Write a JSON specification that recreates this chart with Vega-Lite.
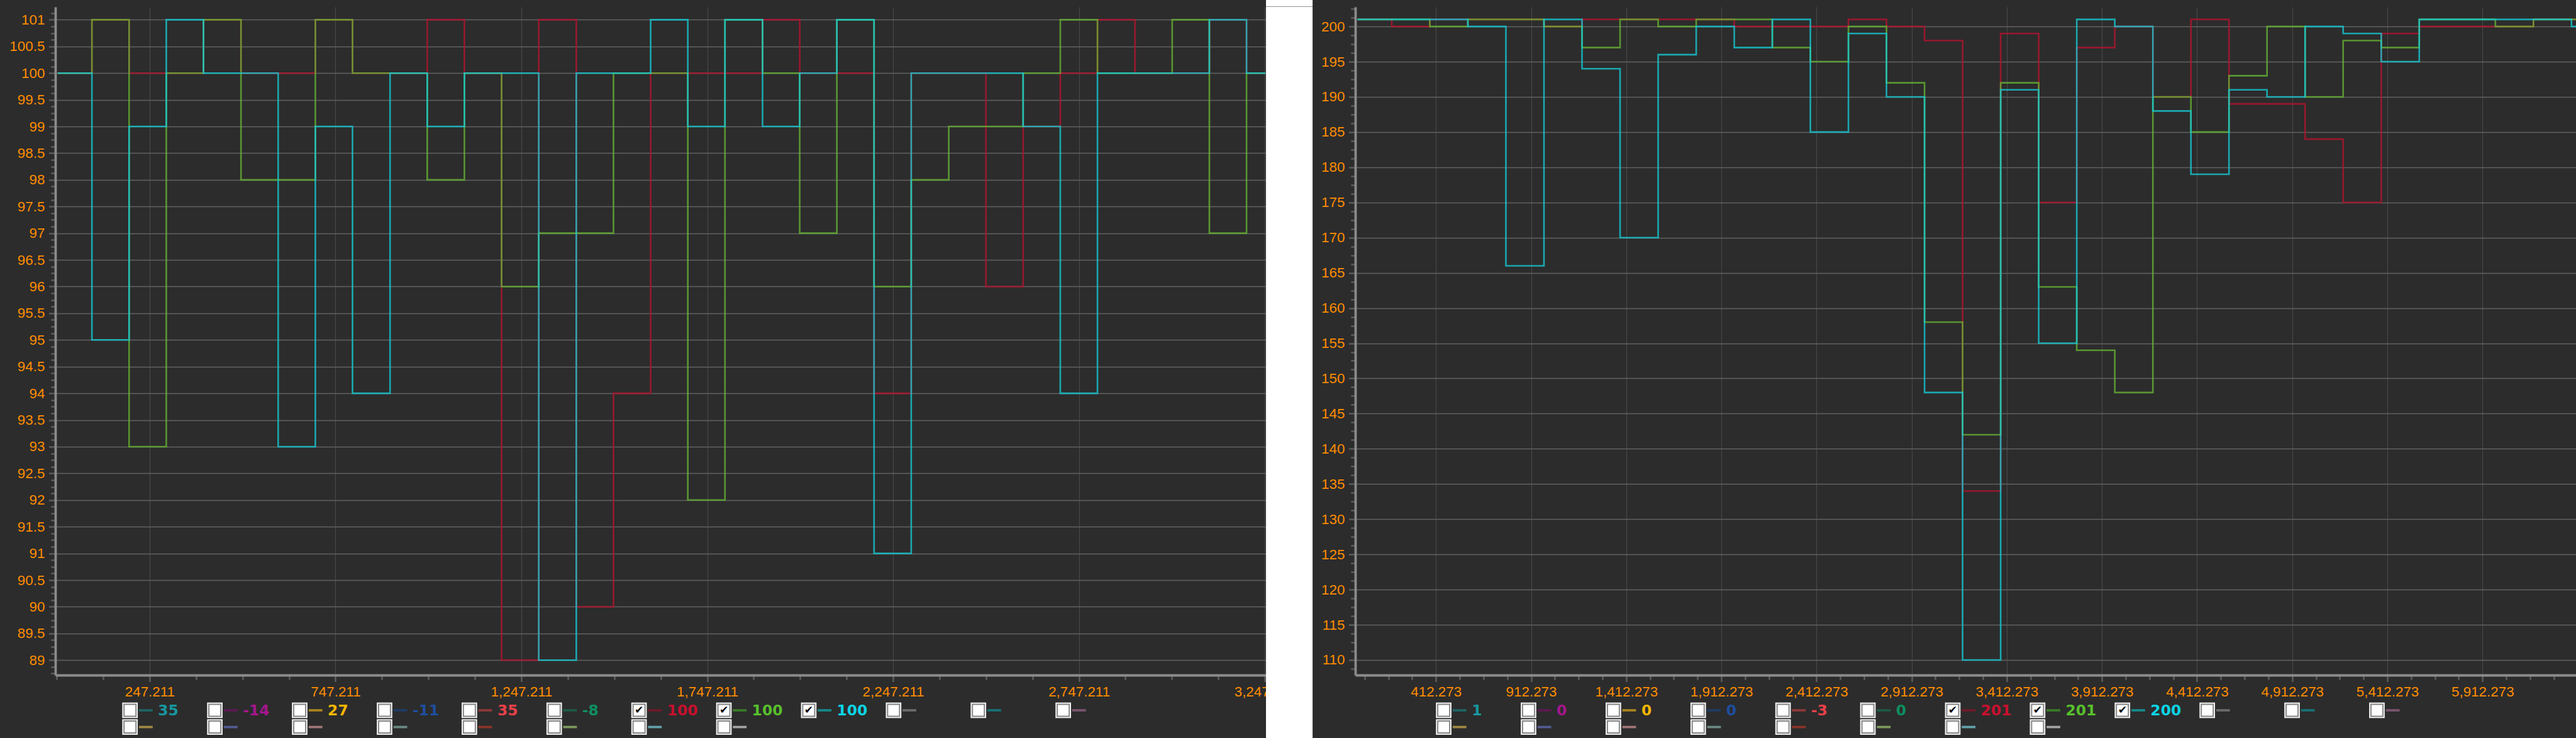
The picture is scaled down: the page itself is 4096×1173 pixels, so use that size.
{
"$schema":"https://vega.github.io/schema/vega-lite/v6.json",
"background":"#2c2c2c",
"padding":0,
"datasets":{
"left":[
{"s":"R","x":0,"y":100},{"s":"R","x":92,"y":101},{"s":"R","x":192,"y":100},{"s":"R","x":292,"y":100},{"s":"R","x":392,"y":101},{"s":"R","x":493,"y":100},{"s":"R","x":593,"y":100},{"s":"R","x":693,"y":101},{"s":"R","x":793,"y":100},{"s":"R","x":894,"y":100},{"s":"R","x":994,"y":101},{"s":"R","x":1094,"y":100},{"s":"R","x":1194,"y":89},{"s":"R","x":1294,"y":101},{"s":"R","x":1395,"y":90},{"s":"R","x":1495,"y":94},{"s":"R","x":1595,"y":100},{"s":"R","x":1695,"y":100},{"s":"R","x":1795,"y":100},{"s":"R","x":1896,"y":101},{"s":"R","x":1996,"y":100},{"s":"R","x":2096,"y":100},{"s":"R","x":2196,"y":94},{"s":"R","x":2296,"y":100},{"s":"R","x":2397,"y":100},{"s":"R","x":2497,"y":96},{"s":"R","x":2597,"y":99},{"s":"R","x":2697,"y":100},{"s":"R","x":2797,"y":101},{"s":"R","x":2898,"y":100},{"s":"R","x":2998,"y":100},{"s":"R","x":3098,"y":101},{"s":"R","x":3198,"y":100},{"s":"R","x":3249,"y":100},
{"s":"G","x":0,"y":100},{"s":"G","x":92,"y":101},{"s":"G","x":192,"y":93},{"s":"G","x":292,"y":100},{"s":"G","x":392,"y":101},{"s":"G","x":493,"y":98},{"s":"G","x":593,"y":98},{"s":"G","x":693,"y":101},{"s":"G","x":793,"y":100},{"s":"G","x":894,"y":100},{"s":"G","x":994,"y":98},{"s":"G","x":1094,"y":100},{"s":"G","x":1194,"y":96},{"s":"G","x":1294,"y":97},{"s":"G","x":1395,"y":97},{"s":"G","x":1495,"y":100},{"s":"G","x":1595,"y":100},{"s":"G","x":1695,"y":92},{"s":"G","x":1795,"y":101},{"s":"G","x":1896,"y":100},{"s":"G","x":1996,"y":97},{"s":"G","x":2096,"y":101},{"s":"G","x":2196,"y":96},{"s":"G","x":2296,"y":98},{"s":"G","x":2397,"y":99},{"s":"G","x":2497,"y":99},{"s":"G","x":2597,"y":100},{"s":"G","x":2697,"y":101},{"s":"G","x":2797,"y":100},{"s":"G","x":2898,"y":100},{"s":"G","x":2998,"y":101},{"s":"G","x":3098,"y":97},{"s":"G","x":3198,"y":100},{"s":"G","x":3249,"y":100},
{"s":"T","x":0,"y":100},{"s":"T","x":92,"y":95},{"s":"T","x":192,"y":99},{"s":"T","x":292,"y":101},{"s":"T","x":392,"y":100},{"s":"T","x":493,"y":100},{"s":"T","x":593,"y":93},{"s":"T","x":693,"y":99},{"s":"T","x":793,"y":94},{"s":"T","x":894,"y":100},{"s":"T","x":994,"y":99},{"s":"T","x":1094,"y":100},{"s":"T","x":1194,"y":100},{"s":"T","x":1294,"y":89},{"s":"T","x":1395,"y":100},{"s":"T","x":1495,"y":100},{"s":"T","x":1595,"y":101},{"s":"T","x":1695,"y":99},{"s":"T","x":1795,"y":101},{"s":"T","x":1896,"y":99},{"s":"T","x":1996,"y":100},{"s":"T","x":2096,"y":101},{"s":"T","x":2196,"y":91},{"s":"T","x":2296,"y":100},{"s":"T","x":2397,"y":100},{"s":"T","x":2497,"y":100},{"s":"T","x":2597,"y":99},{"s":"T","x":2697,"y":94},{"s":"T","x":2797,"y":100},{"s":"T","x":2898,"y":100},{"s":"T","x":2998,"y":100},{"s":"T","x":3098,"y":101},{"s":"T","x":3198,"y":100},{"s":"T","x":3249,"y":100}
],
"right":[
{"s":"R","x":0,"y":201},{"s":"R","x":180,"y":200},{"s":"R","x":380,"y":201},{"s":"R","x":580,"y":201},{"s":"R","x":780,"y":201},{"s":"R","x":980,"y":200},{"s":"R","x":1180,"y":201},{"s":"R","x":1380,"y":201},{"s":"R","x":1580,"y":201},{"s":"R","x":1780,"y":201},{"s":"R","x":1980,"y":200},{"s":"R","x":2180,"y":200},{"s":"R","x":2380,"y":200},{"s":"R","x":2580,"y":201},{"s":"R","x":2780,"y":200},{"s":"R","x":2980,"y":198},{"s":"R","x":3180,"y":134},{"s":"R","x":3380,"y":199},{"s":"R","x":3580,"y":175},{"s":"R","x":3780,"y":197},{"s":"R","x":3980,"y":200},{"s":"R","x":4180,"y":190},{"s":"R","x":4380,"y":201},{"s":"R","x":4580,"y":189},{"s":"R","x":4780,"y":189},{"s":"R","x":4980,"y":184},{"s":"R","x":5180,"y":175},{"s":"R","x":5380,"y":199},{"s":"R","x":5580,"y":200},{"s":"R","x":5780,"y":200},{"s":"R","x":5980,"y":200},{"s":"R","x":6180,"y":201},{"s":"R","x":6380,"y":201},{"s":"R","x":6412,"y":201},
{"s":"G","x":0,"y":201},{"s":"G","x":180,"y":201},{"s":"G","x":380,"y":200},{"s":"G","x":580,"y":201},{"s":"G","x":780,"y":201},{"s":"G","x":980,"y":200},{"s":"G","x":1180,"y":197},{"s":"G","x":1380,"y":201},{"s":"G","x":1580,"y":200},{"s":"G","x":1780,"y":201},{"s":"G","x":1980,"y":201},{"s":"G","x":2180,"y":197},{"s":"G","x":2380,"y":195},{"s":"G","x":2580,"y":200},{"s":"G","x":2780,"y":192},{"s":"G","x":2980,"y":158},{"s":"G","x":3180,"y":142},{"s":"G","x":3380,"y":192},{"s":"G","x":3580,"y":163},{"s":"G","x":3780,"y":154},{"s":"G","x":3980,"y":148},{"s":"G","x":4180,"y":190},{"s":"G","x":4380,"y":185},{"s":"G","x":4580,"y":193},{"s":"G","x":4780,"y":200},{"s":"G","x":4980,"y":190},{"s":"G","x":5180,"y":198},{"s":"G","x":5380,"y":197},{"s":"G","x":5580,"y":201},{"s":"G","x":5780,"y":201},{"s":"G","x":5980,"y":200},{"s":"G","x":6180,"y":201},{"s":"G","x":6380,"y":201},{"s":"G","x":6412,"y":201},
{"s":"T","x":0,"y":201},{"s":"T","x":180,"y":201},{"s":"T","x":380,"y":201},{"s":"T","x":580,"y":200},{"s":"T","x":780,"y":166},{"s":"T","x":980,"y":201},{"s":"T","x":1180,"y":194},{"s":"T","x":1380,"y":170},{"s":"T","x":1580,"y":196},{"s":"T","x":1780,"y":200},{"s":"T","x":1980,"y":197},{"s":"T","x":2180,"y":201},{"s":"T","x":2380,"y":185},{"s":"T","x":2580,"y":199},{"s":"T","x":2780,"y":190},{"s":"T","x":2980,"y":148},{"s":"T","x":3180,"y":110},{"s":"T","x":3380,"y":191},{"s":"T","x":3580,"y":155},{"s":"T","x":3780,"y":201},{"s":"T","x":3980,"y":200},{"s":"T","x":4180,"y":188},{"s":"T","x":4380,"y":179},{"s":"T","x":4580,"y":191},{"s":"T","x":4780,"y":190},{"s":"T","x":4980,"y":200},{"s":"T","x":5180,"y":199},{"s":"T","x":5380,"y":195},{"s":"T","x":5580,"y":201},{"s":"T","x":5780,"y":201},{"s":"T","x":5980,"y":201},{"s":"T","x":6180,"y":201},{"s":"T","x":6380,"y":200},{"s":"T","x":6412,"y":200}
],
"legend":[
{"panel":"L","row":1,"col":0,"slot":"a0","label":"35","checked":false},
{"panel":"L","row":1,"col":1,"slot":"a1","label":"-14","checked":false},
{"panel":"L","row":1,"col":2,"slot":"a2","label":"27","checked":false},
{"panel":"L","row":1,"col":3,"slot":"a3","label":"-11","checked":false},
{"panel":"L","row":1,"col":4,"slot":"a4","label":"35","checked":false},
{"panel":"L","row":1,"col":5,"slot":"a5","label":"-8","checked":false},
{"panel":"L","row":1,"col":6,"slot":"a6","label":"100","checked":true},
{"panel":"L","row":1,"col":7,"slot":"a7","label":"100","checked":true},
{"panel":"L","row":1,"col":8,"slot":"a8","label":"100","checked":true},
{"panel":"L","row":1,"col":9,"slot":"a9","label":"","checked":false},
{"panel":"L","row":1,"col":10,"slot":"a10","label":"","checked":false},
{"panel":"L","row":1,"col":11,"slot":"a11","label":"","checked":false},
{"panel":"L","row":2,"col":0,"slot":"b0","label":"","checked":false},
{"panel":"L","row":2,"col":1,"slot":"b1","label":"","checked":false},
{"panel":"L","row":2,"col":2,"slot":"b2","label":"","checked":false},
{"panel":"L","row":2,"col":3,"slot":"b3","label":"","checked":false},
{"panel":"L","row":2,"col":4,"slot":"b4","label":"","checked":false},
{"panel":"L","row":2,"col":5,"slot":"b5","label":"","checked":false},
{"panel":"L","row":2,"col":6,"slot":"b6","label":"","checked":false},
{"panel":"L","row":2,"col":7,"slot":"b7","label":"","checked":false},
{"panel":"R","row":1,"col":0,"slot":"a0","label":"1","checked":false},
{"panel":"R","row":1,"col":1,"slot":"a1","label":"0","checked":false},
{"panel":"R","row":1,"col":2,"slot":"a2","label":"0","checked":false},
{"panel":"R","row":1,"col":3,"slot":"a3","label":"0","checked":false},
{"panel":"R","row":1,"col":4,"slot":"a4","label":"-3","checked":false},
{"panel":"R","row":1,"col":5,"slot":"a5","label":"0","checked":false},
{"panel":"R","row":1,"col":6,"slot":"a6","label":"201","checked":true},
{"panel":"R","row":1,"col":7,"slot":"a7","label":"201","checked":true},
{"panel":"R","row":1,"col":8,"slot":"a8","label":"200","checked":true},
{"panel":"R","row":1,"col":9,"slot":"a9","label":"","checked":false},
{"panel":"R","row":1,"col":10,"slot":"a10","label":"","checked":false},
{"panel":"R","row":1,"col":11,"slot":"a11","label":"","checked":false},
{"panel":"R","row":2,"col":0,"slot":"b0","label":"","checked":false},
{"panel":"R","row":2,"col":1,"slot":"b1","label":"","checked":false},
{"panel":"R","row":2,"col":2,"slot":"b2","label":"","checked":false},
{"panel":"R","row":2,"col":3,"slot":"b3","label":"","checked":false},
{"panel":"R","row":2,"col":4,"slot":"b4","label":"","checked":false},
{"panel":"R","row":2,"col":5,"slot":"b5","label":"","checked":false},
{"panel":"R","row":2,"col":6,"slot":"b6","label":"","checked":false},
{"panel":"R","row":2,"col":7,"slot":"b7","label":"","checked":false}
]
},
"columns":5,
"spacing":0,
"bounds":"flush",
"concat":[
{"width":87.4,"height":10.45,"data":{"values":[]},"mark":"point"},
{"width":1924.5,"height":10.45,"data":{"values":[]},"mark":"point"},
{"width":74.1,"height":10.45,"view":{"fill":"#ffffff"},"data":{"values":[]},"mark":"point"},
{"width":66.5,"height":10.45,"data":{"values":[]},"mark":"point"},
{"width":1943.5,"height":10.45,"data":{"values":[]},"mark":"point"},

{"width":87.4,"height":1062,"data":{"values":[]},"mark":"point"},
{"width":1924.5,"height":1062,
 "data":{"name":"left"},
 "encoding":{
  "x":{"field":"x","type":"quantitative","scale":{"domain":[-6.4,3249.5],"nice":false,"zero":false},
   "axis":{"title":null,"grid":true,
    "values":[-2.789,122.211,247.211,372.211,497.211,622.211,747.211,872.211,997.211,1122.211,1247.211,1372.211,1497.211,1622.211,1747.211,1872.211,1997.211,2122.211,2247.211,2372.211,2497.211,2622.211,2747.211,2872.211,2997.211,3122.211,3247.211],
    "labelExpr":"abs((datum.value-247.211)/500-round((datum.value-247.211)/500))<0.001 ? format(datum.value, ',.3f') : ''",
    "tickSize":{"condition":{"test":"abs((datum.value-247.211)/500-round((datum.value-247.211)/500))<0.001","value":10.5},"value":7.3},
    "gridOpacity":{"condition":{"test":"abs((datum.value-247.211)/500-round((datum.value-247.211)/500))<0.001","value":1},"value":0}}},
  "y":{"field":"y","type":"quantitative","scale":{"domain":[88.72,101.24],"nice":false,"zero":false},
   "axis":{"title":null,"grid":true,
    "values":[88.75,88.875,89,89.125,89.25,89.375,89.5,89.625,89.75,89.875,90,90.125,90.25,90.375,90.5,90.625,90.75,90.875,91,91.125,91.25,91.375,91.5,91.625,91.75,91.875,92,92.125,92.25,92.375,92.5,92.625,92.75,92.875,93,93.125,93.25,93.375,93.5,93.625,93.75,93.875,94,94.125,94.25,94.375,94.5,94.625,94.75,94.875,95,95.125,95.25,95.375,95.5,95.625,95.75,95.875,96,96.125,96.25,96.375,96.5,96.625,96.75,96.875,97,97.125,97.25,97.375,97.5,97.625,97.75,97.875,98,98.125,98.25,98.375,98.5,98.625,98.75,98.875,99,99.125,99.25,99.375,99.5,99.625,99.75,99.875,100,100.125,100.25,100.375,100.5,100.625,100.75,100.875,101,101.125],
    "labelExpr":"abs(datum.value*2-round(datum.value*2))<0.001 ? format(datum.value, '.1~f') : ''",
    "tickSize":{"condition":{"test":"abs(datum.value*2-round(datum.value*2))<0.001","value":10.5},"value":7.3},
    "gridOpacity":{"condition":{"test":"abs(datum.value*2-round(datum.value*2))<0.001","value":1},"value":0}}}
 },
 "layer":[
  {"transform":[{"filter":"datum.s==='R'"}],"mark":{"type":"line","interpolate":"step-after","color":"#b3142f","strokeWidth":2.6,"strokeOpacity":0.8,"clip":true}},
  {"transform":[{"filter":"datum.s==='G'"}],"mark":{"type":"line","interpolate":"step-after","color":"#66b534","strokeWidth":2.6,"strokeOpacity":0.78,"clip":true}},
  {"transform":[{"filter":"datum.s==='T'"}],"mark":{"type":"line","interpolate":"step-after","color":"#16ccd6","strokeWidth":2.6,"strokeOpacity":0.78,"clip":true}}
 ]
},
{"width":74.1,"height":1062,"view":{"fill":"#ffffff"},"data":{"values":[]},"mark":"point"},
{"width":66.5,"height":1062,"data":{"values":[]},"mark":"point"},
{"width":1943.5,"height":1062,
 "data":{"name":"right"},
 "encoding":{
  "x":{"field":"x","type":"quantitative","scale":{"domain":[-11.6,6412],"nice":false,"zero":false},
   "axis":{"title":null,"grid":true,
    "values":[37.273,162.273,287.273,412.273,537.273,662.273,787.273,912.273,1037.273,1162.273,1287.273,1412.273,1537.273,1662.273,1787.273,1912.273,2037.273,2162.273,2287.273,2412.273,2537.273,2662.273,2787.273,2912.273,3037.273,3162.273,3287.273,3412.273,3537.273,3662.273,3787.273,3912.273,4037.273,4162.273,4287.273,4412.273,4537.273,4662.273,4787.273,4912.273,5037.273,5162.273,5287.273,5412.273,5537.273,5662.273,5787.273,5912.273,6037.273,6162.273,6287.273],
    "labelExpr":"abs((datum.value-412.273)/500-round((datum.value-412.273)/500))<0.001 ? format(datum.value, ',.3f') : ''",
    "tickSize":{"condition":{"test":"abs((datum.value-412.273)/500-round((datum.value-412.273)/500))<0.001","value":10.5},"value":7.3},
    "gridOpacity":{"condition":{"test":"abs((datum.value-412.273)/500-round((datum.value-412.273)/500))<0.001","value":1},"value":0}}},
  "y":{"field":"y","type":"quantitative","scale":{"domain":[107.85,202.78],"nice":false,"zero":false},
   "axis":{"title":null,"grid":true,
    "values":[108.75,110,111.25,112.5,113.75,115,116.25,117.5,118.75,120,121.25,122.5,123.75,125,126.25,127.5,128.75,130,131.25,132.5,133.75,135,136.25,137.5,138.75,140,141.25,142.5,143.75,145,146.25,147.5,148.75,150,151.25,152.5,153.75,155,156.25,157.5,158.75,160,161.25,162.5,163.75,165,166.25,167.5,168.75,170,171.25,172.5,173.75,175,176.25,177.5,178.75,180,181.25,182.5,183.75,185,186.25,187.5,188.75,190,191.25,192.5,193.75,195,196.25,197.5,198.75,200,201.25,202.5],
    "labelExpr":"abs(datum.value/5-round(datum.value/5))<0.001 ? format(datum.value, 'd') : ''",
    "tickSize":{"condition":{"test":"abs(datum.value/5-round(datum.value/5))<0.001","value":10.5},"value":7.3},
    "gridOpacity":{"condition":{"test":"abs(datum.value/5-round(datum.value/5))<0.001","value":1},"value":0}}}
 },
 "layer":[
  {"transform":[{"filter":"datum.s==='R'"}],"mark":{"type":"line","interpolate":"step-after","color":"#b3142f","strokeWidth":2.6,"strokeOpacity":0.8,"clip":true}},
  {"transform":[{"filter":"datum.s==='G'"}],"mark":{"type":"line","interpolate":"step-after","color":"#66b534","strokeWidth":2.6,"strokeOpacity":0.78,"clip":true}},
  {"transform":[{"filter":"datum.s==='T'"}],"mark":{"type":"line","interpolate":"step-after","color":"#16ccd6","strokeWidth":2.6,"strokeOpacity":0.78,"clip":true}}
 ]
},

{"width":87.4,"height":100.55,"data":{"values":[]},"mark":"point"},
{"width":1924.5,"height":100.55,
 "data":{"name":"legend"},
 "transform":[{"filter":"datum.panel==='L'"}],
 "encoding":{
  "x":{"field":"col","type":"quantitative","scale":{"domain":[-0.88,13.386],"nice":false,"zero":false},"axis":null},
  "y":{"field":"row","type":"quantitative","scale":{"domain":[-1.105,2.677],"nice":false,"zero":false,"reverse":true},"axis":null}
 },
 "layer":[
  {"mark":{"type":"point","shape":"square","size":610,"filled":true,"fill":"#f4f4f4","opacity":1}},
  {"mark":{"type":"point","shape":"square","size":360,"filled":true,"fill":"#ffffff","stroke":"#858585","strokeWidth":1.9,"opacity":1}},
  {"transform":[{"filter":"datum.checked"}],"mark":{"type":"text","text":"✔","font":"DejaVu Sans","fontSize":17,"color":"#000000","align":"center","baseline":"middle"}},
  {"mark":{"type":"point","shape":"stroke","size":475,"strokeWidth":3.8,"xOffset":25.2,"opacity":1,"filled":false},
   "encoding":{"stroke":{"field":"slot","type":"nominal","legend":null,"scale":{"domain":["a0","a1","a2","a3","a4","a5","a6","a7","a8","a9","a10","a11","b0","b1","b2","b3","b4","b5","b6","b7"],"range":["#1f6464","#5c1a52","#a88420","#1e3c64","#8e3838","#1e5a44","#6e1a2a","#3a7a28","#168a8a","#6a6a6a","#177076","#7a5470","#a08844","#525c92","#a27676","#6a8a82","#8a3428","#7c9a5c","#62a2aa","#a4a4a4"]}}}},
  {"transform":[{"filter":"datum.label!==''"}],"mark":{"type":"text","align":"left","baseline":"middle","dx":44.6,"dy":1,"font":"DejaVu Sans","fontWeight":"bold","fontSize":23.4},
   "encoding":{"text":{"field":"label","type":"nominal"},"color":{"field":"slot","type":"nominal","legend":null,"scale":{"domain":["a0","a1","a2","a3","a4","a5","a6","a7","a8"],"range":["#17979f","#a4168c","#f2b600","#1e4ea0","#e8404a","#0e8f60","#c8102e","#58c02c","#0cd4e4"]}}}}
 ]
},
{"width":74.1,"height":100.55,"view":{"fill":"#ffffff"},"data":{"values":[]},"mark":"point"},
{"width":66.5,"height":100.55,"data":{"values":[]},"mark":"point"},
{"width":1943.5,"height":100.55,
 "data":{"name":"legend"},
 "transform":[{"filter":"datum.panel==='R'"}],
 "encoding":{
  "x":{"field":"col","type":"quantitative","scale":{"domain":[-1.042,13.365],"nice":false,"zero":false},"axis":null},
  "y":{"field":"row","type":"quantitative","scale":{"domain":[-1.105,2.677],"nice":false,"zero":false,"reverse":true},"axis":null}
 },
 "layer":[
  {"mark":{"type":"point","shape":"square","size":610,"filled":true,"fill":"#f4f4f4","opacity":1}},
  {"mark":{"type":"point","shape":"square","size":360,"filled":true,"fill":"#ffffff","stroke":"#858585","strokeWidth":1.9,"opacity":1}},
  {"transform":[{"filter":"datum.checked"}],"mark":{"type":"text","text":"✔","font":"DejaVu Sans","fontSize":17,"color":"#000000","align":"center","baseline":"middle"}},
  {"mark":{"type":"point","shape":"stroke","size":475,"strokeWidth":3.8,"xOffset":25.2,"opacity":1,"filled":false},
   "encoding":{"stroke":{"field":"slot","type":"nominal","legend":null,"scale":{"domain":["a0","a1","a2","a3","a4","a5","a6","a7","a8","a9","a10","a11","b0","b1","b2","b3","b4","b5","b6","b7"],"range":["#1f6464","#5c1a52","#a88420","#1e3c64","#8e3838","#1e5a44","#6e1a2a","#3a7a28","#168a8a","#6a6a6a","#177076","#7a5470","#a08844","#525c92","#a27676","#6a8a82","#8a3428","#7c9a5c","#62a2aa","#a4a4a4"]}}}},
  {"transform":[{"filter":"datum.label!==''"}],"mark":{"type":"text","align":"left","baseline":"middle","dx":44.6,"dy":1,"font":"DejaVu Sans","fontWeight":"bold","fontSize":23.4},
   "encoding":{"text":{"field":"label","type":"nominal"},"color":{"field":"slot","type":"nominal","legend":null,"scale":{"domain":["a0","a1","a2","a3","a4","a5","a6","a7","a8"],"range":["#17979f","#a4168c","#f2b600","#1e4ea0","#e8404a","#0e8f60","#c8102e","#58c02c","#0cd4e4"]}}}}
 ]
}
],
"config":{
 "view":{"stroke":null},
 "axis":{"labelFont":"Liberation Sans","labelFontSize":22.4,"labelColor":"#ff8c00","domainColor":"#8c8c8c","domainWidth":3.8,"tickColor":"#5c5c5c","tickWidth":2.6,"labelOverlap":false,"labelFlush":false},
 "axisX":{"gridColor":"#484848","gridWidth":1.2,"labelPadding":4.7},
 "axisY":{"gridColor":"#626262","gridWidth":1.4,"labelPadding":6.6}
}
}
